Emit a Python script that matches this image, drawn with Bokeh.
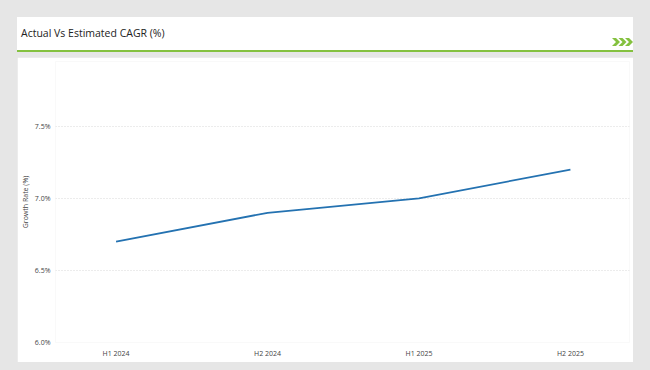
from bokeh.plotting import figure
from bokeh.layouts import column
from bokeh.models import Range1d, FixedTicker, PrintfTickFormatter, ColumnDataSource, Div
from bokeh.embed import file_html
from bokeh.resources import INLINE

# ---- data ----
periods = ["H1 2024", "H2 2024", "H1 2025", "H2 2025"]
growth_rate = [6.7, 6.9, 7.0, 7.2]
y_ticks = [6.0, 6.5, 7.0, 7.5]
title_text = "Actual Vs Estimated CAGR (%)"
y_label = "Growth Rate (%)"

BG = "#e6e6e6"
GREEN = "#84c13f"
LINE = "#2472b1"
FONT = "Open Sans"
TXT = "#444444"

# ---- header (HTML) ----
chev = "".join(
    '<polygon points="{a},0 {b},0 {c},4 {b},8 {a},8 {b},4" fill="{g}"/>'.format(
        a=i * 6.5, b=i * 6.5 + 4, c=i * 6.5 + 8, g=GREEN)
    for i in range(3))
header_html = (
    '<div style="position:relative;width:616px;height:35px;background:white;'
    'border-bottom:2px solid %s;">'
    '<span style="position:absolute;left:4px;top:9px;font-family:\'Open Sans\';'
    'font-size:10.5px;line-height:14px;color:#222222;white-space:nowrap;">%s</span>'
    '<svg style="position:absolute;left:595px;top:21px" width="22" height="8">%s</svg>'
    '</div>' % (GREEN, title_text, chev))
header = Div(text=header_html, width=616, height=37, margin=(17, 0, 0, 17))

# ---- plot ----
src = ColumnDataSource(dict(x=list(range(len(periods))), y=growth_rate))
p = figure(width=616, height=305, output_backend="svg", toolbar_location=None,
           x_range=Range1d(-0.4, 3.39), y_range=Range1d(6.0, 7.95),
           background_fill_color="white", border_fill_color="white",
           outline_line_color=None, min_border_left=37, min_border_right=4,
           min_border_top=4, min_border_bottom=20, margin=(3, 0, 0, 17))
p.line("x", "y", source=src, line_color=LINE, line_width=1.8)

p.xaxis.ticker = FixedTicker(ticks=list(range(len(periods))))
p.xaxis.major_label_overrides = {i: s for i, s in enumerate(periods)}
p.yaxis.ticker = FixedTicker(ticks=y_ticks)
p.yaxis.formatter = PrintfTickFormatter(format="%.1f%%")
p.yaxis.axis_label = y_label
for ax in (p.xaxis, p.yaxis):
    ax.axis_line_color = None
    ax.major_tick_line_color = None
    ax.minor_tick_line_color = None
    ax.major_tick_out = 0
    ax.major_tick_in = 0
    ax.major_label_text_font = FONT
    ax.major_label_text_font_size = "7px"
    ax.major_label_text_color = TXT
p.xaxis.major_label_standoff = 6
p.yaxis.major_label_standoff = 5
p.yaxis.axis_label_text_font = FONT
p.yaxis.axis_label_text_font_size = "7px"
p.yaxis.axis_label_text_font_style = "normal"
p.yaxis.axis_label_text_color = TXT
p.yaxis.axis_label_standoff = 2
p.xgrid.visible = False
p.ygrid.grid_line_color = "#d9d9d9"
p.ygrid.grid_line_dash = "1 2"
p.ygrid.grid_line_width = 1

layout = column(header, p, spacing=0, width=650, height=370,
                styles={"background-color": BG})
html = file_html(layout, INLINE)
html = html.replace("<body>", '<body style="background-color:%s">' % BG, 1)
open("out.html", "w").write(html)
